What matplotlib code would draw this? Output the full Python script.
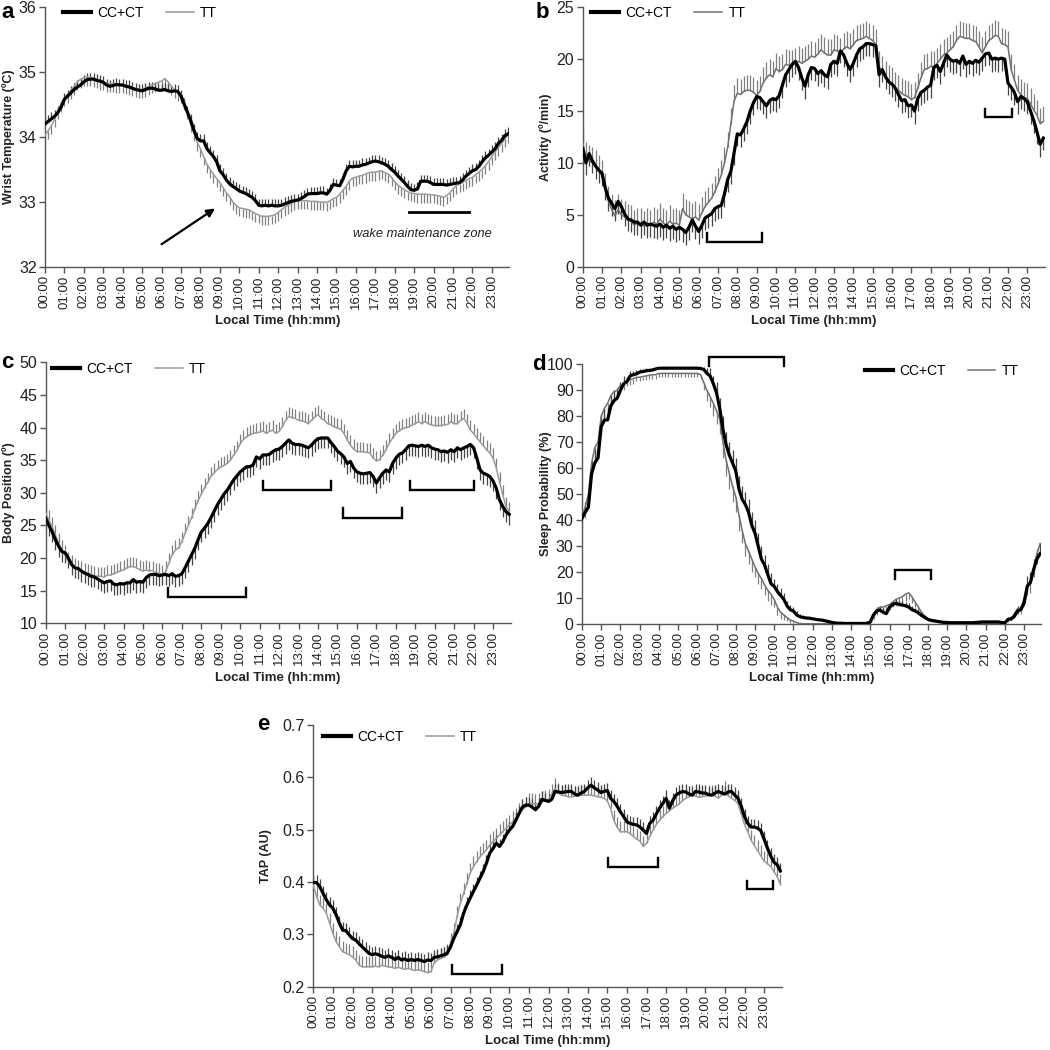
import numpy as np
import matplotlib
matplotlib.use("Agg")
import matplotlib.pyplot as plt
from matplotlib.lines import Line2D

plt.rcParams['font.family'] = ['Liberation Sans', 'DejaVu Sans']

# ---------------- data (10-min bins, 00:00 .. 23:50) ----------------
time_labels = ["00:00", "01:00", "02:00", "03:00", "04:00", "05:00", "06:00", "07:00",
               "08:00", "09:00", "10:00", "11:00", "12:00", "13:00", "14:00", "15:00",
               "16:00", "17:00", "18:00", "19:00", "20:00", "21:00", "22:00", "23:00"]
series_names = ["CC+CT", "TT"]

# Panel a: wrist temperature (degC)
temp_cc = [34.20, 34.24, 34.28, 34.32, 34.38, 34.46,
           34.58, 34.63, 34.68, 34.73, 34.77, 34.80,
           34.85, 34.88, 34.89, 34.89, 34.87, 34.86,
           34.84, 34.80, 34.78, 34.79, 34.81, 34.80,
           34.80, 34.78, 34.77, 34.75, 34.73, 34.72,
           34.71, 34.73, 34.75, 34.75, 34.74, 34.72,
           34.72, 34.73, 34.71, 34.70, 34.71, 34.70,
           34.63, 34.50, 34.38, 34.25, 34.10, 33.98,
           33.94, 33.94, 33.82, 33.76, 33.70, 33.62,
           33.48, 33.42, 33.34, 33.28, 33.24, 33.21,
           33.17, 33.15, 33.13, 33.10, 33.07, 33.02,
           32.95, 32.94, 32.95, 32.94, 32.95, 32.94,
           32.94, 32.95, 32.97, 32.99, 33.01, 33.02,
           33.03, 33.05, 33.08, 33.12, 33.13, 33.13,
           33.13, 33.14, 33.14, 33.12, 33.18, 33.27,
           33.26, 33.25, 33.35, 33.48, 33.55, 33.54,
           33.55, 33.55, 33.57, 33.58, 33.60, 33.62,
           33.63, 33.62, 33.60, 33.58, 33.55, 33.50,
           33.46, 33.40, 33.35, 33.30, 33.24, 33.19,
           33.18, 33.20, 33.32, 33.32, 33.32, 33.30,
           33.27, 33.27, 33.27, 33.27, 33.26, 33.27,
           33.28, 33.29, 33.30, 33.34, 33.40, 33.44,
           33.48, 33.50, 33.55, 33.62, 33.68, 33.72,
           33.77, 33.82, 33.90, 33.95, 34.02, 34.05]
temp_tt = [34.02, 34.10, 34.17, 34.28, 34.40, 34.52,
           34.60, 34.66, 34.72, 34.78, 34.85, 34.89,
           34.91, 34.92, 34.92, 34.90, 34.88, 34.86,
           34.85, 34.83, 34.82, 34.82, 34.81, 34.80,
           34.81, 34.79, 34.77, 34.76, 34.74, 34.73,
           34.73, 34.75, 34.78, 34.80, 34.82, 34.84,
           34.86, 34.90, 34.85, 34.78, 34.73, 34.69,
           34.66, 34.55, 34.40, 34.20, 34.07, 33.92,
           33.82, 33.70, 33.58, 33.50, 33.43, 33.36,
           33.30, 33.22, 33.14, 33.08, 33.00, 32.95,
           32.91, 32.90, 32.89, 32.88, 32.85, 32.82,
           32.80, 32.78, 32.78, 32.78, 32.79, 32.80,
           32.84, 32.88, 32.92, 32.95, 32.98, 33.00,
           33.02, 33.02, 33.02, 33.02, 33.01, 33.01,
           33.01, 33.00, 33.00, 32.99, 33.02, 33.05,
           33.07, 33.12, 33.18, 33.24, 33.32, 33.37,
           33.38, 33.40, 33.41, 33.43, 33.45, 33.46,
           33.46, 33.47, 33.48, 33.45, 33.43, 33.38,
           33.31, 33.26, 33.22, 33.19, 33.16, 33.14,
           33.13, 33.12, 33.12, 33.12, 33.12, 33.11,
           33.11, 33.10, 33.09, 33.07, 33.10, 33.14,
           33.20, 33.25, 33.28, 33.30, 33.33, 33.36,
           33.38, 33.42, 33.46, 33.50, 33.56, 33.62,
           33.70, 33.77, 33.84, 33.90, 33.97, 34.04]
temp_cc_sem, temp_tt_sem = 0.10, 0.13

# Panel b: activity (deg/min)
act_cc = [11.4, 10.0, 10.9, 10.2, 9.7, 9.3,
          9.0, 7.6, 6.6, 6.1, 5.6, 6.3,
          5.8, 5.1, 4.6, 4.5, 4.3, 4.3,
          4.0, 4.3, 4.0, 4.1, 4.0, 3.9,
          4.1, 3.8, 4.0, 3.7, 3.9, 3.6,
          3.8, 3.6, 3.3, 3.8, 4.5, 3.9,
          3.4, 4.0, 4.7, 4.9, 5.1, 5.6,
          5.8, 5.9, 7.0, 8.4, 9.2, 11.0,
          12.8, 12.7, 13.3, 14.0, 15.0, 15.8,
          16.4, 16.3, 15.9, 15.5, 16.0, 16.2,
          16.1, 16.5, 17.5, 18.5, 19.0, 19.5,
          19.8, 19.2, 18.2, 17.4, 18.5, 19.2,
          19.1, 18.6, 18.9, 18.5, 18.3, 19.5,
          19.8, 19.6, 20.8, 20.4, 19.6, 19.0,
          19.6, 20.4, 21.0, 21.2, 21.5, 21.5,
          21.4, 21.3, 18.5, 19.0, 18.3, 17.8,
          17.6, 17.2, 16.6, 16.0, 16.1, 15.5,
          15.6, 15.0, 16.2, 16.8, 17.0, 17.3,
          17.5, 19.2, 19.4, 18.8, 19.6, 20.4,
          20.0, 19.8, 19.9, 19.6, 20.3, 19.5,
          19.8, 19.6, 19.9, 19.7, 20.1, 20.5,
          20.6, 20.0, 20.1, 20.0, 20.1, 20.0,
          17.7, 17.3, 16.8, 15.9, 16.4, 16.2,
          15.9, 15.0, 14.1, 13.0, 11.8, 12.4]
act_tt = [12.0, 10.5, 10.2, 10.0, 9.7, 9.3,
          8.8, 7.5, 6.3, 5.5, 4.9, 5.5,
          5.0, 4.8, 4.5, 4.4, 4.0, 4.2,
          4.2, 3.9, 4.2, 4.0, 4.3, 4.1,
          4.6, 4.2, 4.0, 4.4, 4.1, 4.2,
          4.0, 5.6, 5.0, 4.8, 4.6, 4.8,
          4.5, 5.2, 5.8, 6.2, 6.6, 7.2,
          8.0, 8.8, 10.0, 11.5, 13.8, 16.0,
          16.7, 16.6, 16.9, 17.0, 17.0, 16.8,
          16.5, 16.9, 17.7, 18.2, 18.5, 18.3,
          19.1, 18.8, 19.0, 19.5, 19.4, 19.4,
          19.6, 19.8, 19.6, 19.8, 20.0, 20.3,
          20.2, 20.5, 20.9, 20.6, 20.4, 20.4,
          20.9, 20.8, 20.5, 21.0, 21.2, 21.0,
          21.4, 21.8, 21.9, 22.0, 22.2, 22.0,
          21.8, 21.4, 19.3, 18.8, 18.3, 17.9,
          17.7, 17.3, 17.0, 16.7, 16.5, 16.4,
          16.1, 16.3, 17.2, 18.2, 19.0, 19.1,
          19.3, 19.3, 19.6, 20.0, 20.4, 20.6,
          20.9, 21.2, 21.8, 22.2, 22.1, 22.0,
          22.0, 21.8, 21.7, 21.2, 20.6, 21.2,
          21.8, 22.0, 22.3, 22.2, 21.5, 21.4,
          21.2, 19.0, 18.0, 17.0, 16.6, 16.3,
          16.2, 15.7, 15.1, 14.6, 13.8, 14.0]
act_cc_sem, act_tt_sem = 1.2, 1.5

# Panel c: body position (deg)
pos_cc = [26.1, 25.0, 24.0, 22.8, 21.8, 21.0,
          20.8, 20.0, 19.0, 18.5, 18.4, 18.0,
          17.7, 17.5, 17.2, 17.1, 16.8, 16.5,
          16.2, 16.4, 16.5, 16.0, 15.9, 16.1,
          16.0, 16.2, 16.2, 16.7, 16.3, 16.4,
          16.3, 17.0, 17.4, 17.5, 17.5, 17.3,
          17.4, 17.5, 17.3, 17.6, 17.2, 17.3,
          17.6, 18.5, 19.5, 20.5, 21.5, 22.8,
          24.0, 24.6, 25.3, 26.2, 27.2, 28.2,
          29.0, 29.8, 30.4, 31.2, 32.0, 32.6,
          33.2, 33.6, 34.0, 34.0, 34.3, 35.5,
          35.2, 35.8, 35.8, 35.9, 36.3, 36.6,
          36.7, 37.1, 37.6, 38.1, 37.6, 37.4,
          37.4, 37.3, 37.1, 36.9, 37.3, 37.9,
          38.3, 38.4, 38.4, 38.4, 37.7, 37.1,
          36.4, 36.0, 35.5, 34.5, 34.8, 33.8,
          33.2, 33.0, 32.9, 33.0, 33.1, 32.5,
          31.5, 32.3, 33.0, 33.5, 33.2, 34.5,
          35.3, 35.9, 36.1, 36.6, 37.2, 37.3,
          37.2, 37.1, 37.3, 37.1, 37.3, 36.9,
          36.7, 36.6, 36.3, 36.4, 36.2, 36.6,
          36.3, 36.9, 36.6, 36.9, 37.1, 37.4,
          36.9, 35.3, 33.5, 33.0, 32.8, 32.5,
          31.8, 30.7, 28.9, 27.9, 27.1, 26.7]
pos_tt = [26.9, 25.8, 24.8, 23.5, 22.3, 21.2,
          20.5, 19.5, 19.0, 18.5, 18.2, 18.0,
          17.7, 17.6, 17.5, 17.3, 17.2, 17.2,
          17.1, 17.4, 17.4, 17.6, 17.8, 18.0,
          18.2, 18.5, 18.7, 18.7, 18.5, 18.2,
          18.0, 18.2, 18.0, 18.1, 17.7, 17.7,
          17.4, 18.0, 19.2, 20.5, 21.2, 21.6,
          22.5, 23.8, 25.0, 26.2, 27.5, 28.8,
          29.8, 30.8, 31.6, 32.5, 33.1, 33.6,
          34.0, 34.2, 34.5, 35.0, 35.8, 36.5,
          37.5, 38.2, 38.6, 38.9, 39.1, 39.2,
          39.3, 39.5, 39.1, 39.4, 39.6, 39.1,
          39.4, 40.1, 41.1, 41.7, 41.5, 41.4,
          41.1, 41.0, 40.9, 40.6, 41.1, 41.6,
          42.0, 41.4, 41.1, 40.6, 40.4, 40.1,
          39.9, 39.8, 39.1, 38.1, 37.3, 36.7,
          36.3, 36.3, 36.3, 36.2, 36.1, 35.3,
          34.9, 35.1, 35.8, 36.6, 37.6, 38.4,
          39.1, 39.5, 39.8, 40.0, 40.1, 40.4,
          40.6, 40.9, 40.6, 40.9, 40.6, 40.4,
          40.3, 40.3, 40.3, 40.4, 40.5, 40.9,
          40.6, 40.6, 41.1, 41.4, 40.6, 39.6,
          39.1, 38.4, 37.8, 37.2, 36.6, 36.1,
          35.3, 33.8, 31.7, 29.7, 27.9, 27.1]
pos_cc_sem, pos_tt_sem = 1.6, 1.5

# Panel d: sleep probability (%)
sleep_cc = [40.7, 43.0, 45.0, 58.0, 62.0, 64.0,
            76.0, 78.5, 78.6, 84.0, 86.0, 87.0,
            90.0, 92.5, 93.3, 95.5, 96.0, 96.3,
            97.0, 97.2, 97.5, 97.6, 97.8, 98.2,
            98.5, 98.5, 98.5, 98.5, 98.5, 98.5,
            98.5, 98.5, 98.5, 98.5, 98.5, 98.5,
            98.5, 98.4, 98.0, 96.5, 95.5, 92.5,
            89.0, 83.0, 75.0, 69.0, 65.0, 62.0,
            59.0, 52.0, 48.0, 46.0, 43.0, 38.0,
            35.0, 30.0, 25.0, 22.7, 19.0, 15.5,
            14.5, 12.5, 11.0, 9.5, 7.0, 5.5,
            5.0, 3.5, 2.8, 2.5, 2.3, 2.2,
            2.0, 1.8, 1.6, 1.5, 1.2, 0.9,
            0.6, 0.4, 0.3, 0.3, 0.2, 0.2,
            0.2, 0.2, 0.2, 0.2, 0.2, 0.3,
            0.8, 3.5, 5.0, 5.4, 4.5, 4.0,
            6.5, 7.5, 8.0, 7.5, 7.3, 7.0,
            6.5, 5.5, 5.0, 4.3, 3.3, 2.5,
            1.8, 1.4, 1.2, 1.0, 0.8, 0.6,
            0.5, 0.5, 0.5, 0.5, 0.5, 0.5,
            0.5, 0.5, 0.5, 0.6, 0.7, 0.8,
            0.8, 0.8, 0.8, 0.8, 0.8, 0.6,
            0.4, 1.8, 2.0, 3.0, 5.0, 5.5,
            8.0, 14.5, 16.0, 21.0, 25.0, 27.0]
sleep_tt = [41.0, 45.0, 50.0, 62.0, 68.0, 70.0,
            80.0, 83.0, 85.0, 88.0, 89.5, 90.0,
            92.0, 92.5, 93.5, 94.0, 94.5, 95.0,
            95.0, 95.3, 95.5, 95.8, 96.0, 96.0,
            96.5, 96.5, 96.5, 96.5, 96.5, 96.5,
            96.5, 96.5, 96.5, 96.5, 96.5, 96.5,
            96.5, 96.0, 93.0, 90.0, 87.5, 85.0,
            82.0, 79.0, 70.0, 63.0, 58.0, 53.0,
            49.0, 42.0, 36.0, 31.0, 28.0, 25.0,
            22.0, 19.5, 17.5, 15.0, 13.0, 11.5,
            9.5, 6.5, 4.5, 3.5, 2.5, 1.5,
            1.2, 0.5, 0.2, 0.1, 0.1, 0.1,
            0.1, 0.1, 0.1, 0.1, 0.1, 0.1,
            0.1, 0.1, 0.1, 0.1, 0.1, 0.1,
            0.1, 0.1, 0.1, 0.1, 0.1, 0.1,
            0.8, 3.5, 5.5, 6.5, 6.5, 7.0,
            7.5, 8.5, 9.5, 10.0, 10.5, 11.5,
            12.0, 10.5, 8.5, 6.5, 4.5, 3.0,
            2.0, 1.5, 1.2, 1.0, 0.8, 0.9,
            1.0, 0.6, 0.5, 0.5, 0.5, 0.5,
            0.3, 0.3, 0.3, 0.3, 0.3, 0.3,
            0.3, 0.3, 0.3, 0.3, 0.3, 0.3,
            0.8, 1.5, 2.0, 4.0, 6.0, 6.0,
            10.0, 15.0, 16.0, 22.0, 27.0, 31.0]
sleep_cc_sem = [4, 4, 4, 5, 5, 5,
                5, 5, 5, 4, 4, 4,
                3, 3, 2, 2, 1.5, 1.5,
                1, 1, 1, 1, 0.8, 0.8,
                0.5, 0.5, 0.5, 0.5, 0.5, 0.5,
                0.5, 0.5, 0.5, 0.5, 0.5, 0.5,
                0.5, 0.5, 1, 2, 3, 3,
                4, 4, 5, 5, 5, 5,
                5, 5, 5, 5, 5, 5,
                5, 5, 5, 4, 4, 4,
                3, 3, 3, 2.5, 2, 2,
                1.5, 1.5, 1, 1, 0.8, 0.8,
                0.5, 0.5, 0.5, 0.5, 0.5, 0.5,
                0.3, 0.3, 0.3, 0.3, 0.3, 0.3,
                0.3, 0.3, 0.3, 0.3, 0.3, 0.3,
                0.5, 1, 1.5, 1.5, 1.5, 1.5,
                1.5, 1.5, 1.5, 1.5, 1.5, 1.5,
                1.5, 1.5, 1, 1, 1, 0.8,
                0.5, 0.5, 0.5, 0.5, 0.5, 0.5,
                0.3, 0.3, 0.3, 0.3, 0.3, 0.3,
                0.3, 0.3, 0.3, 0.3, 0.3, 0.3,
                0.3, 0.3, 0.3, 0.3, 0.3, 0.3,
                0.5, 0.8, 1, 1.5, 2, 2,
                3, 4, 4, 4, 4, 4]
sleep_tt_sem = [4, 4, 5, 5, 5, 5,
                5, 5, 4, 4, 3, 3,
                3, 2.5, 2, 2, 2, 1.5,
                1.5, 1.5, 1.5, 1.5, 1.5, 1.5,
                1.3, 1.3, 1.3, 1.3, 1.3, 1.3,
                1.3, 1.3, 1.3, 1.3, 1.3, 1.3,
                1.3, 1.5, 3, 4, 4, 5,
                5, 6, 6, 6, 6, 6,
                6, 6, 5, 5, 5, 5,
                4, 4, 4, 4, 4, 4,
                3, 3, 2.5, 2, 1.5, 1.2,
                1, 0.5, 0.2, 0.1, 0.1, 0.1,
                0.1, 0.1, 0.1, 0.1, 0.1, 0.1,
                0.1, 0.1, 0.1, 0.1, 0.1, 0.1,
                0.1, 0.1, 0.1, 0.1, 0.1, 0.1,
                0.5, 1.5, 2, 2, 2, 2,
                2, 2, 2.5, 2.5, 2.5, 2.5,
                2.5, 2.5, 2, 2, 1.5, 1,
                0.8, 0.6, 0.5, 0.5, 0.5, 0.5,
                0.5, 0.5, 0.5, 0.5, 0.5, 0.5,
                0.2, 0.2, 0.2, 0.2, 0.2, 0.2,
                0.2, 0.2, 0.2, 0.2, 0.2, 0.2,
                0.5, 0.8, 1, 1.5, 2, 2,
                3, 4, 4, 4, 4, 4]

# Panel e: TAP (AU)
tap_cc = [0.399, 0.399, 0.391, 0.378, 0.366, 0.356,
          0.350, 0.337, 0.321, 0.308, 0.307, 0.299,
          0.292, 0.289, 0.282, 0.276, 0.270, 0.264,
          0.261, 0.263, 0.261, 0.258, 0.256, 0.259,
          0.256, 0.252, 0.256, 0.251, 0.253, 0.250,
          0.252, 0.250, 0.252, 0.250, 0.248, 0.251,
          0.250, 0.256, 0.257, 0.259, 0.261, 0.264,
          0.276, 0.292, 0.305, 0.318, 0.340, 0.356,
          0.369, 0.382, 0.394, 0.407, 0.420, 0.436,
          0.455, 0.464, 0.474, 0.468, 0.477, 0.490,
          0.499, 0.506, 0.518, 0.531, 0.543, 0.547,
          0.547, 0.543, 0.538, 0.545, 0.558, 0.556,
          0.554, 0.558, 0.573, 0.572, 0.571, 0.572,
          0.573, 0.573, 0.568, 0.566, 0.570, 0.573,
          0.580, 0.585, 0.580, 0.576, 0.571, 0.573,
          0.575, 0.560, 0.554, 0.545, 0.534, 0.525,
          0.515, 0.512, 0.510, 0.509, 0.505, 0.499,
          0.493, 0.512, 0.518, 0.530, 0.541, 0.550,
          0.560, 0.541, 0.555, 0.566, 0.570, 0.573,
          0.572, 0.568, 0.566, 0.573, 0.572, 0.570,
          0.570, 0.567, 0.566, 0.570, 0.573, 0.570,
          0.568, 0.572, 0.573, 0.566, 0.560, 0.545,
          0.525, 0.512, 0.505, 0.505, 0.503, 0.498,
          0.482, 0.465, 0.450, 0.438, 0.433, 0.421]
tap_tt = [0.394, 0.372, 0.356, 0.350, 0.340, 0.321,
          0.302, 0.286, 0.276, 0.267, 0.264, 0.261,
          0.257, 0.251, 0.241, 0.238, 0.238, 0.238,
          0.238, 0.239, 0.238, 0.241, 0.239, 0.238,
          0.237, 0.235, 0.237, 0.235, 0.233, 0.235,
          0.233, 0.231, 0.232, 0.231, 0.229, 0.227,
          0.229, 0.245, 0.251, 0.254, 0.256, 0.261,
          0.283, 0.302, 0.334, 0.359, 0.378, 0.397,
          0.417, 0.429, 0.439, 0.448, 0.455, 0.461,
          0.471, 0.477, 0.483, 0.490, 0.496, 0.503,
          0.509, 0.515, 0.522, 0.531, 0.538, 0.543,
          0.550, 0.550, 0.549, 0.550, 0.553, 0.556,
          0.558, 0.568, 0.579, 0.570, 0.566, 0.565,
          0.563, 0.563, 0.564, 0.565, 0.566, 0.566,
          0.566, 0.566, 0.565, 0.563, 0.562, 0.560,
          0.555, 0.541, 0.518, 0.505, 0.496, 0.496,
          0.496, 0.492, 0.487, 0.482, 0.478, 0.468,
          0.474, 0.487, 0.499, 0.510, 0.518, 0.525,
          0.531, 0.536, 0.541, 0.545, 0.550, 0.555,
          0.560, 0.563, 0.566, 0.564, 0.562, 0.563,
          0.564, 0.565, 0.566, 0.564, 0.560, 0.566,
          0.573, 0.565, 0.560, 0.556, 0.550, 0.530,
          0.510, 0.496, 0.480, 0.470, 0.460, 0.450,
          0.440, 0.435, 0.430, 0.420, 0.410, 0.395]
tap_cc_sem, tap_tt_sem = 0.015, 0.02

# Significance brackets: (start h, end h, base y, tip y)
brackets_b = [(6.45, 9.25, 2.35, 3.2), (20.8, 22.23, 14.4, 15.2)]
brackets_c = [(6.31, 10.28, 14.0, 15.35), (11.16, 14.65, 30.4, 31.8),
              (15.3, 18.32, 26.2, 27.6), (18.75, 22.0, 30.4, 31.8)]
brackets_d = [(6.59, 10.5, 103.0, 99.5), (16.3, 18.17, 20.8, 17.3)]
brackets_e = [(7.08, 9.63, 0.2236, 0.2414), (15.05, 17.58, 0.428, 0.445),
              (22.15, 23.45, 0.387, 0.401)]
wmz_span = (18.75, 21.84, 32.84)
wmz_label = "wake maintenance zone"

# ---------------- drawing ----------------
W = H = 1050
fig = plt.figure(figsize=(10.5, 10.5), dpi=100)
XMAX = 23.9


def rect_px(left, top, right, bottom):
    return [left / W, 1 - bottom / H, (right - left) / W, (bottom - top) / H]


def panel(rect, cc, tt, cc_err, tt_err, cc_dir, tt_dir, ylim, ystep, yfmt,
          ylabel, ylabel_x, tt_color, legend_xy, brackets=()):
    ax = fig.add_axes(rect)
    cc = np.asarray(cc, float)
    tt = np.asarray(tt, float)
    t = np.arange(len(cc)) / 6.0
    cc_e = np.broadcast_to(np.asarray(cc_err, float), cc.shape)
    tt_e = np.broadcast_to(np.asarray(tt_err, float), tt.shape)
    ax.vlines(t, tt, tt + tt_dir * tt_e, color='#808080', lw=0.9, zorder=2)
    ax.vlines(t, cc, cc + cc_dir * cc_e, color='#454545', lw=0.9, zorder=2)
    ax.plot(t, tt, color=tt_color, lw=1.1, zorder=3)
    ax.plot(t, cc, color='black', lw=2.3, zorder=4, solid_joinstyle='round')
    for (x0, x1, yb, yt) in brackets:
        ax.plot([x0, x0, x1, x1], [yt, yb, yb, yt], color='black', lw=1.7,
                clip_on=False, zorder=5, solid_joinstyle='miter')
    ax.set_xlim(0, XMAX)
    ax.set_ylim(*ylim)
    ax.set_xticks(np.arange(24))
    ax.set_xticklabels(time_labels, rotation=90, fontsize=9.5, color='#222')
    yt = np.arange(ylim[0], ylim[1] + ystep / 2, ystep)
    ax.set_yticks(yt)
    ax.set_yticklabels([yfmt % v for v in yt], fontsize=11.5, color='#222')
    for s in ['top', 'right']:
        ax.spines[s].set_visible(False)
    for s in ['left', 'bottom']:
        ax.spines[s].set_color('#555')
        ax.spines[s].set_linewidth(1.0)
    ax.tick_params(direction='out', length=4, width=1.0, color='#555', pad=2)
    ax.set_ylabel(ylabel, fontsize=9, fontweight='bold', color='#222')
    ax.yaxis.set_label_coords(ylabel_x, 0.5)
    ax.set_xlabel("Local Time (hh:mm)", fontsize=9.5, fontweight='bold', color='#222')
    ax.xaxis.set_label_coords(0.5, -0.185)
    handles = [Line2D([], [], color='black', lw=3.0),
               Line2D([], [], color=tt_color, lw=1.1)]
    ax.legend(handles, series_names, loc='upper left', bbox_to_anchor=legend_xy,
              ncol=2, frameon=False, fontsize=10, handlelength=2.0,
              handletextpad=0.45, columnspacing=1.6, borderpad=0,
              borderaxespad=0)
    return ax


ax_a = panel(rect_px(45, 7, 45 + XMAX * 19.43, 267), temp_cc, temp_tt,
             temp_cc_sem, temp_tt_sem, +1, -1, (32, 36), 1, '%d',
             'Wrist Temperature (ºC)', -0.065, '#9a9a9a', (0.039, 1.005))
ax_a.plot([wmz_span[0], wmz_span[1]], [wmz_span[2], wmz_span[2]], color='black', lw=2.0)
ax_a.text(15.87, 32.51, wmz_label, style='italic', fontsize=9.3, ha='left', va='center',
          color='#222')
ax_a.annotate('', xy=(8.75, 32.9), xytext=(6.0, 32.35),
              arrowprops=dict(arrowstyle='-|>', color='black', lw=1.6,
                              mutation_scale=12, shrinkA=0, shrinkB=0))

ax_b = panel(rect_px(582.7, 7.3, 582.7 + XMAX * 19.33, 266.7), act_cc, act_tt,
             act_cc_sem, act_tt_sem, -1, +1, (0, 25), 5, '%d',
             'Activity (º/min)', -0.066, '#707070', (0.019, 1.006), brackets_b)

ax_c = panel(rect_px(45.7, 362.3, 45.7 + XMAX * 19.45, 623.3), pos_cc, pos_tt,
             pos_cc_sem, pos_tt_sem, -1, +1, (10, 50), 5, '%d',
             'Body Position (º)', -0.066, '#9a9a9a', (0.0136, 1.001), brackets_c)

ax_d = panel(rect_px(582, 364.3, 582 + XMAX * 19.22, 624), sleep_cc, sleep_tt,
             sleep_cc_sem, sleep_tt_sem, +1, -1, (0, 100), 10, '%d',
             'Sleep Probability (%)', -0.066, '#707070', (0.6156, 1.001), brackets_d)

ax_e = panel(rect_px(313.3, 725, 313.3 + XMAX * 19.6, 986.7), tap_cc, tap_tt,
             tap_cc_sem, tap_tt_sem, +1, +1, (0.2, 0.7), 0.1, '%.1f',
             'TAP (AU)', -0.088, '#9a9a9a', (0.0207, 0.981), brackets_e)

for letter, (px, py) in zip('abcde', [(1, 12), (536, 12), (1, 362), (532, 364), (257, 724)]):
    fig.text(px / W, 1 - py / H, letter, fontsize=16, fontweight='bold',
             ha='left', va='center')

fig.savefig('out.png', dpi=100)
